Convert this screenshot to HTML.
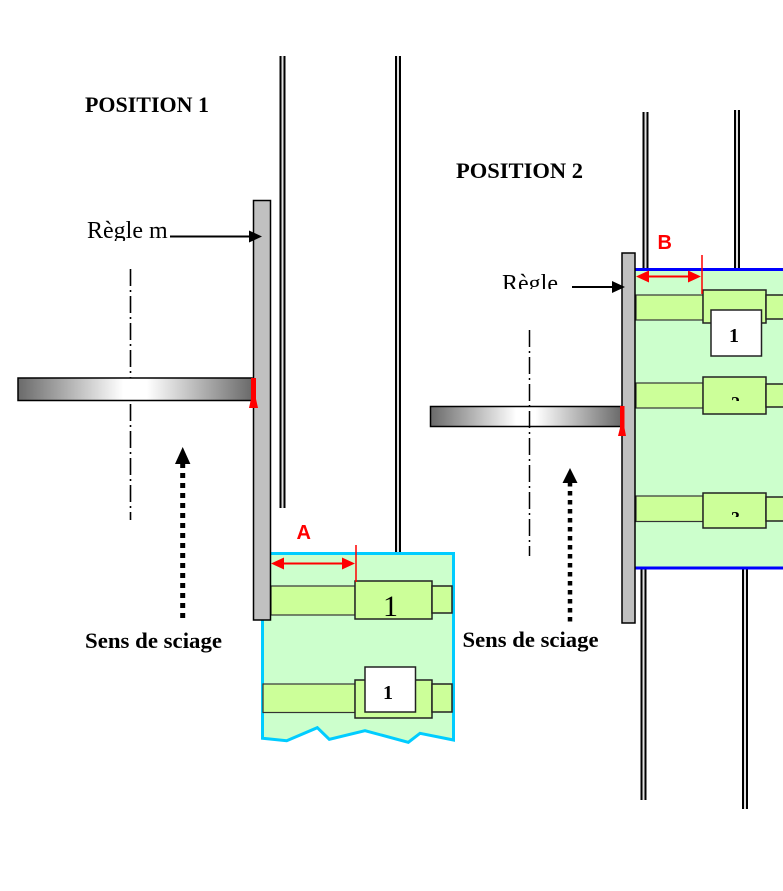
<!DOCTYPE html>
<html><head><meta charset="utf-8"><style>
html,body{margin:0;padding:0;background:#fff;}
svg{display:block;}
</style></head><body>
<svg width="783" height="891" viewBox="0 0 783 891" xmlns="http://www.w3.org/2000/svg">
<defs>
<linearGradient id="blade" x1="0" y1="0" x2="1" y2="0">
<stop offset="0" stop-color="#6a6a6a"/>
<stop offset="0.45" stop-color="#ffffff"/>
<stop offset="0.55" stop-color="#ffffff"/>
<stop offset="1" stop-color="#6a6a6a"/>
</linearGradient>
<clipPath id="c1"><rect x="0" y="200" width="260" height="41"/></clipPath>
<clipPath id="c2"><rect x="480" y="260" width="100" height="29"/></clipPath>
<clipPath id="c3"><rect x="720" y="385" width="40" height="16"/></clipPath>
<clipPath id="c4"><rect x="720" y="500" width="40" height="17"/></clipPath>
</defs>

<!-- POSITION 1 -->
<g fill="#000">
<rect x="279.5" y="56" width="2" height="452"/>
<rect x="283.5" y="56" width="2" height="452"/>
<rect x="395" y="56" width="2" height="497"/>
<rect x="399" y="56" width="2" height="497"/>
</g>
<rect x="281.5" y="56" width="2" height="452" fill="#e0e0e0"/>
<rect x="397" y="56" width="2" height="497" fill="#e0e0e0"/>

<text x="85" y="112" font-family="Liberation Serif, serif" font-weight="bold" font-size="22" textLength="124" lengthAdjust="spacingAndGlyphs">POSITION 1</text>

<!-- green panel -->
<polygon points="262.5,553.5 453.5,553.5 453.5,740 420,733.3 408.3,742.3 365,730.7 329.3,739.3 317.3,727.7 286.7,740.7 262.5,738.3" fill="#ccffcc" stroke="#00ccff" stroke-width="3"/>

<!-- row 1 -->
<rect x="271" y="586" width="84" height="29" fill="#ccff99" stroke="#333" stroke-width="1.2"/>
<rect x="355" y="581" width="77" height="38" fill="#ccff99" stroke="#222" stroke-width="1.5"/>
<rect x="432" y="586" width="20" height="27" fill="#ccff99" stroke="#222" stroke-width="1.5"/>
<text x="383" y="616" font-family="Liberation Serif, serif" font-size="30">1</text>
<!-- row 2 -->
<rect x="263" y="684" width="92" height="28.5" fill="#ccff99" stroke="#333" stroke-width="1.2"/>
<rect x="355" y="680" width="77" height="38" fill="#ccff99" stroke="#222" stroke-width="1.5"/>
<rect x="432" y="684" width="20" height="28" fill="#ccff99" stroke="#222" stroke-width="1.5"/>
<rect x="365" y="667" width="50.5" height="45" fill="#fff" stroke="#222" stroke-width="1.5"/>
<text x="383" y="699" font-family="Liberation Serif, serif" font-weight="bold" font-size="20">1</text>

<!-- ruler 1 -->
<rect x="253.5" y="200.5" width="17" height="419.5" fill="#c0c0c0" stroke="#000" stroke-width="1.5"/>

<!-- center line 1 -->
<line x1="130.5" y1="269" x2="130.5" y2="520" stroke="#000" stroke-width="1.6" stroke-dasharray="17 4 2 4"/>
<!-- blade 1 -->
<rect x="18" y="378" width="234" height="22.5" fill="url(#blade)" stroke="#000" stroke-width="1.5"/>
<polygon points="251,378 256,378 256,399 258,408 249,408 251,399" fill="#ff0000"/>

<!-- Règle m -->
<text x="87" y="238" font-family="Liberation Serif, serif" font-size="24" clip-path="url(#c1)">Règle m</text>
<line x1="170" y1="236.5" x2="251" y2="236.5" stroke="#000" stroke-width="2"/>
<polygon points="262,236.5 249,230.5 249,242.5" fill="#000"/>

<!-- dimension A -->
<line x1="356" y1="545" x2="356" y2="582" stroke="#ff0000" stroke-width="1.5"/>
<line x1="282" y1="563.5" x2="343" y2="563.5" stroke="#ff0000" stroke-width="2"/>
<polygon points="271,563.5 284,557.5 284,569.5" fill="#ff0000"/>
<polygon points="355,563.5 342,557.5 342,569.5" fill="#ff0000"/>
<text x="296.5" y="539" font-family="Liberation Sans, sans-serif" font-weight="bold" font-size="20" fill="#ff0000">A</text>

<!-- sens de sciage 1 -->
<line x1="182.7" y1="463" x2="182.7" y2="621" stroke="#000" stroke-width="5" stroke-dasharray="5 5"/>
<polygon points="182.7,447 175,464 190.4,464" fill="#000"/>
<text x="85" y="648" font-family="Liberation Serif, serif" font-weight="bold" font-size="22" textLength="137" lengthAdjust="spacingAndGlyphs">Sens de sciage</text>

<!-- POSITION 2 -->
<text x="456" y="178" font-family="Liberation Serif, serif" font-weight="bold" font-size="22" textLength="127" lengthAdjust="spacingAndGlyphs">POSITION 2</text>

<g fill="#000">
<rect x="642.5" y="112" width="2" height="157"/>
<rect x="646.5" y="112" width="2" height="157"/>
<rect x="734" y="110" width="2" height="159"/>
<rect x="738" y="110" width="2" height="159"/>
<rect x="640.5" y="568" width="2" height="232"/>
<rect x="644.5" y="568" width="2" height="232"/>
<rect x="742" y="568" width="2" height="241"/>
<rect x="746" y="568" width="2" height="241"/>
</g>
<rect x="644.5" y="112" width="2" height="157" fill="#e0e0e0"/>
<rect x="736" y="110" width="2" height="159" fill="#e0e0e0"/>
<rect x="642.5" y="568" width="2" height="232" fill="#e0e0e0"/>
<rect x="744" y="568" width="2" height="241" fill="#e0e0e0"/>

<!-- green panel 2 -->
<rect x="635" y="269" width="150" height="299" fill="#ccffcc"/>
<rect x="635" y="268" width="150" height="3" fill="#0000ff"/>
<rect x="635" y="566.5" width="150" height="3" fill="#0000ff"/>

<!-- row 1 -->
<rect x="636" y="295" width="67" height="25" fill="#ccff99" stroke="#333" stroke-width="1.2"/>
<rect x="703" y="290" width="63" height="33" fill="#ccff99" stroke="#222" stroke-width="1.5"/>
<rect x="766" y="295" width="20" height="24" fill="#ccff99" stroke="#222" stroke-width="1.5"/>
<rect x="711" y="310" width="50.5" height="46" fill="#fff" stroke="#222" stroke-width="1.5"/>
<text x="729" y="342" font-family="Liberation Serif, serif" font-weight="bold" font-size="20">1</text>
<!-- row 2 -->
<rect x="636" y="383" width="67" height="25" fill="#ccff99" stroke="#333" stroke-width="1.2"/>
<rect x="703" y="377" width="63" height="37" fill="#ccff99" stroke="#222" stroke-width="1.5"/>
<rect x="766" y="384" width="20" height="23" fill="#ccff99" stroke="#222" stroke-width="1.5"/>
<text x="731" y="409" font-family="Liberation Serif, serif" font-weight="bold" font-size="18" clip-path="url(#c3)">2</text>
<!-- row 3 -->
<rect x="636" y="496" width="67" height="25.5" fill="#ccff99" stroke="#333" stroke-width="1.2"/>
<rect x="703" y="493" width="63" height="35" fill="#ccff99" stroke="#222" stroke-width="1.5"/>
<rect x="766" y="497" width="20" height="24" fill="#ccff99" stroke="#222" stroke-width="1.5"/>
<text x="731" y="524" font-family="Liberation Serif, serif" font-weight="bold" font-size="18" clip-path="url(#c4)">3</text>

<!-- ruler 2 -->
<rect x="622" y="253" width="13" height="370" fill="#c0c0c0" stroke="#000" stroke-width="1.5"/>

<!-- blade 2 -->
<rect x="430.5" y="406.5" width="191" height="20" fill="url(#blade)" stroke="#000" stroke-width="1.5"/>
<line x1="529.5" y1="330" x2="529.5" y2="556" stroke="#000" stroke-width="1.5" stroke-dasharray="17 4 2 4"/>
<polygon points="620,406 624.5,406 624.5,428 626,436 618,436 620,428" fill="#ff0000"/>

<!-- Règle -->
<text x="502" y="291" font-family="Liberation Serif, serif" font-size="24" clip-path="url(#c2)">Règle</text>
<line x1="572" y1="287" x2="614" y2="287" stroke="#000" stroke-width="2"/>
<polygon points="625,287 612,281 612,293" fill="#000"/>

<!-- dimension B -->
<line x1="702" y1="255" x2="702" y2="294" stroke="#ff0000" stroke-width="1.5"/>
<line x1="646" y1="276.5" x2="690" y2="276.5" stroke="#ff0000" stroke-width="2"/>
<polygon points="636,276.5 649,270.5 649,282.5" fill="#ff0000"/>
<polygon points="701,276.5 688,270.5 688,282.5" fill="#ff0000"/>
<text x="657.5" y="249" font-family="Liberation Sans, sans-serif" font-weight="bold" font-size="20" fill="#ff0000">B</text>

<!-- sens de sciage 2 -->
<line x1="570" y1="482" x2="570" y2="622" stroke="#000" stroke-width="4.5" stroke-dasharray="4.5 4.5"/>
<polygon points="570,468 562.5,483 577.5,483" fill="#000"/>
<text x="462.5" y="647" font-family="Liberation Serif, serif" font-weight="bold" font-size="22" textLength="136" lengthAdjust="spacingAndGlyphs">Sens de sciage</text>
</svg>
</body></html>
